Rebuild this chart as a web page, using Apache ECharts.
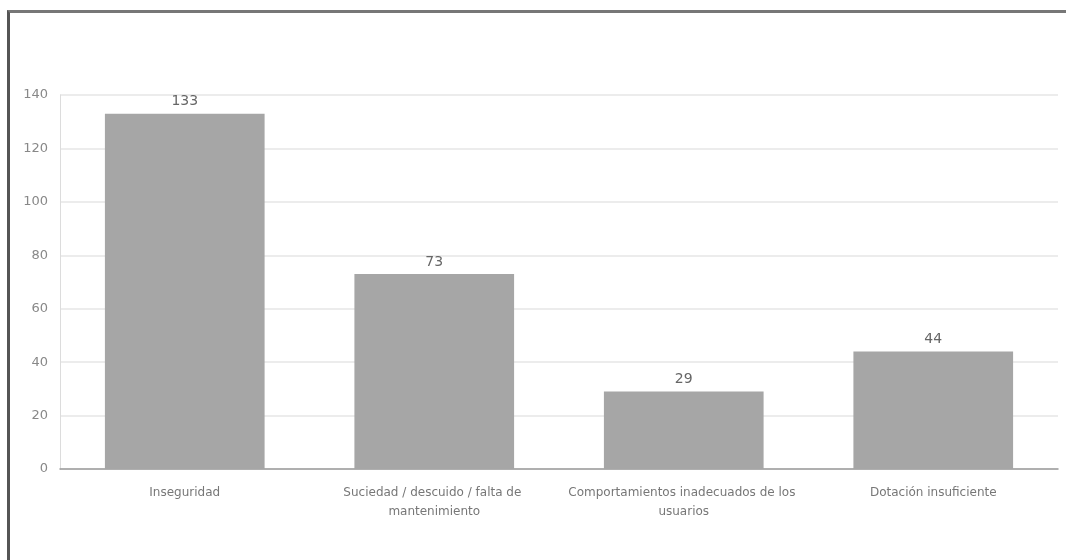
<!DOCTYPE html>
<html>
<head>
<meta charset="utf-8">
<script src="https://cdn.jsdelivr.net/npm/echarts@6/dist/echarts.min.js"></script>
<style>
  html, body { margin: 0; padding: 0; background: #fff; }
  #frame { position: absolute; left: 7px; top: 10px; width: 1059px; height: 550px;
           border-top: 3px solid #777; border-left: 3px solid #555; box-sizing: border-box; }
  #chart { position: absolute; left: 0; top: 0; width: 1066px; height: 560px; }
</style>
</head>
<body>
<div id="frame"></div>
<div id="chart"></div>
<script>
var categories = ['Inseguridad', 'Suciedad / descuido / falta de mantenimiento',
  'Comportamientos inadecuados de los usuarios', 'Dotación insuficiente'];
var values = [133, 73, 29, 44];
var yTicks = [0, 20, 40, 60, 80, 100, 120, 140];

var dom = document.getElementById('chart');
var myChart = echarts.init(dom, null, {renderer: 'canvas'});

var option = {
    animation: false,
    textStyle: { fontFamily: '"DejaVu Sans", sans-serif' },
    grid: { left: 60, right: 8, top: 95, bottom: 91 },
    xAxis: {
        type: 'category',
        data: categories,
        axisTick: { show: false },
        axisLine: { lineStyle: { color: '#9a9a9a', width: 1.5 } },
        axisLabel: {
            interval: 0,
            color: '#777',
            fontSize: 12,
            margin: 14,
            lineHeight: 19,
            width: 250,
            overflow: 'break'
        }
    },
    yAxis: {
        type: 'value',
        min: yTicks[0],
        max: yTicks[yTicks.length - 1],
        interval: 20,
        axisLine: { show: true, lineStyle: { color: '#dcdcdc' } },
        axisTick: { show: false },
        axisLabel: { color: '#888', fontSize: 13, margin: 12 },
        splitLine: { lineStyle: { color: '#e6e6e6', width: 1.5 } }
    },
    series: [{
        type: 'bar',
        data: values,
        barWidth: '64%',
        itemStyle: { color: '#a6a6a6' },
        label: { show: true, position: 'top', color: '#666', fontSize: 14, distance: 5 }
    }]
};
myChart.setOption(option);
</script>
</body>
</html>
